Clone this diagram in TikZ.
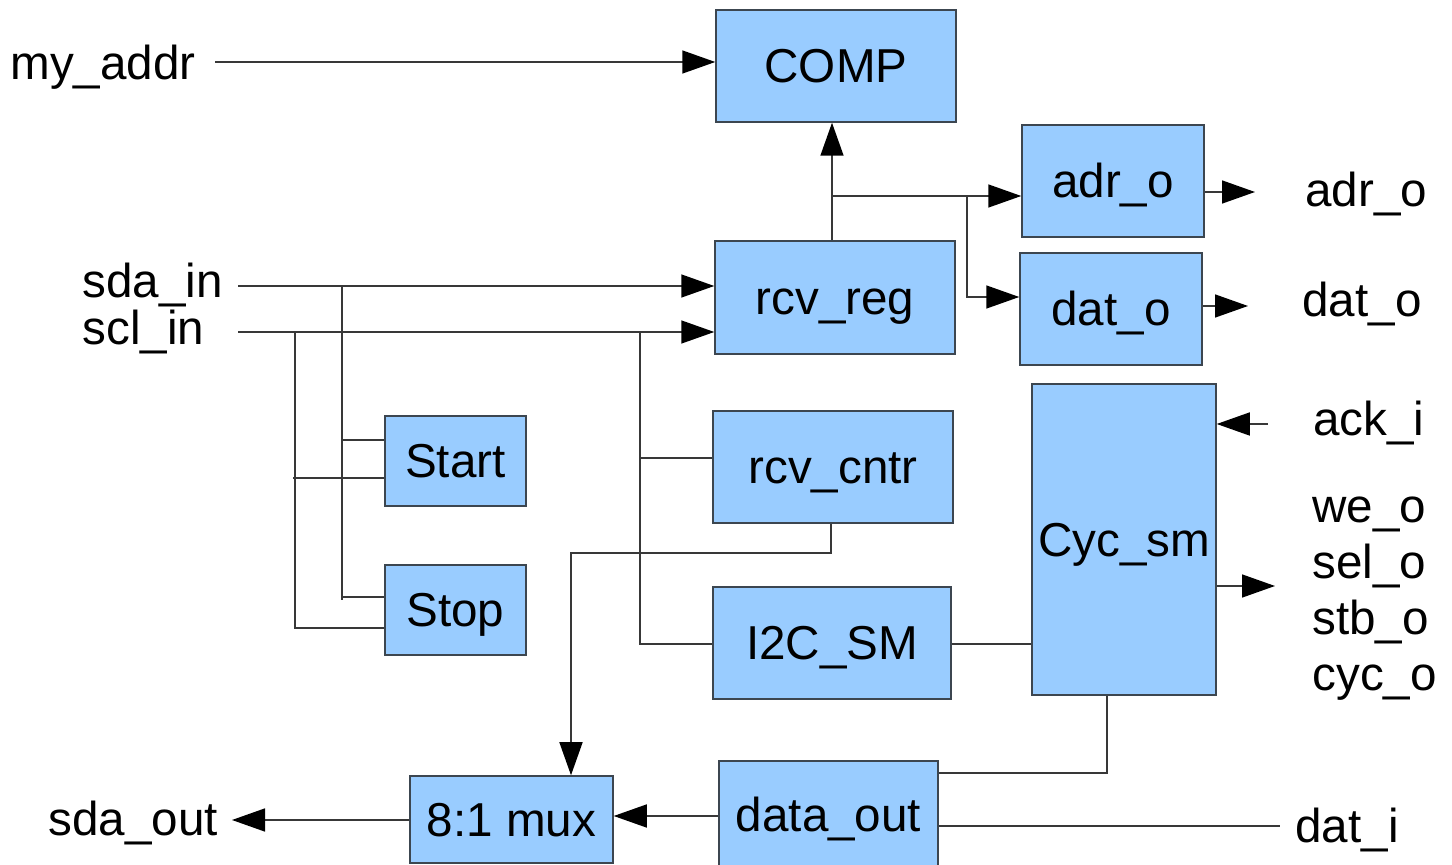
\documentclass[tikz,border=0pt]{standalone}
\usepackage{fontspec}
\setmainfont{Liberation Sans}
\usetikzlibrary{arrows.meta}
\definecolor{blkfill}{HTML}{99CCFF}
\definecolor{blkline}{HTML}{3C4650}
\definecolor{wirec}{HTML}{383838}
\tikzset{
  txt/.style={font=\fontsize{23.8}{28}\selectfont},
  blk/.style={txt, draw=blkline, fill=blkfill, line width=0.75pt, inner sep=0pt,
    text height=17pt, text depth=0pt},
  sz/.style 2 args={minimum width={(#1)*0.5pt}, minimum height={(#2)*0.5pt}},
  lbl/.style={txt, anchor=base west, inner sep=0pt},
  wire/.style={draw=wirec, line width=0.75pt},
  arr/.style={wire, -{Triangle[length=16.5pt, width=11.5pt, color=black]}}
}
\begin{document}
\begin{tikzpicture}[x=0.5pt,y=-0.5pt]
\useasboundingbox (0,0) rectangle (1452,865);
\clip (0,0) rectangle (1452,865);

% functional blocks
\node[blk, sz={240}{112}] (comp) at (836,66)    {COMP};
\node[blk, sz={182}{112}] (adr)  at (1113,181)  {adr\_o};
\node[blk, sz={182}{112}] (dat)  at (1111,309)  {dat\_o};
\node[blk, sz={240}{113}] (rcv)  at (835,297.5) {rcv\_reg};
\node[blk, sz={141}{90}]  (start) at (455.5,461) {Start};
\node[blk, sz={141}{90}]  (stop) at (455.5,610) {Stop};
\node[blk, sz={240}{112}] (cntr) at (833,467)   {rcv\_cntr};
\node[blk, sz={238}{112}] (i2c)  at (832,643)   {I2C\_SM};
\node[blk, sz={184}{311}] (cyc)  at (1124,539.5) {Cyc\_sm};
\node[blk, sz={203}{87}]  (mux)  at (511.5,819.5) {8:1 mux};
\node[blk, sz={219}{108}] (dout) at (828.5,815) {data\_out};

% port names
\node[lbl] (lmy)   at (10,80)    {my\_addr};
\node[lbl] (lsda)  at (82,298)   {sda\_in};
\node[lbl] (lscl)  at (82,345)   {scl\_in};
\node[lbl] (ladr)  at (1305,207) {adr\_o};
\node[lbl] (ldat)  at (1302,317) {dat\_o};
\node[lbl] (lack)  at (1313,436) {ack\_i};
\node[lbl] (lwe)   at (1312,523) {we\_o};
\node[lbl] (lsel)  at (1312,579) {sel\_o};
\node[lbl] (lstb)  at (1312,635) {stb\_o};
\node[lbl] (lcyc)  at (1312,691) {cyc\_o};
\node[lbl] (ldi)   at (1295,842) {dat\_i};
\node[lbl] (lsout) at (48,835)   {sda\_out};

% wire end points and junctions
\coordinate (myS)  at (215,62);
\coordinate (sdaS) at (238,286);
\coordinate (sclS) at (238,332);
\coordinate (tapA) at (342,286);
\coordinate (tapB) at (295,332);
\coordinate (tapC) at (640,332);
\coordinate (cmpT) at (832,196);
\coordinate (datT) at (967,196);
\coordinate (cntB) at (831,553);
\coordinate (muxB) at (571,553);
\coordinate (cycB) at (1107,773);
\coordinate (ackS) at (1268,424);
\coordinate (cycO) at (1275,586);
\coordinate (adrO) at (1255,192);
\coordinate (datO) at (1248,306);
\coordinate (diS)  at (1280,826);
\coordinate (soE)  at (232,820);

% inputs
\draw[arr] (myS) -- (myS -| comp.west);
\draw[arr] (sdaS) -- (sdaS -| rcv.west);
\draw[arr] (sclS) -- (sclS -| rcv.west);

% start / stop detection taps
\draw[wire] (tapA) -- (tapA |- 0,600);
\draw[wire] (tapA |- 0,440) -- (start.west |- 0,440);
\draw[wire] (tapA |- 0,597) -- (stop.west |- 0,597);
\draw[wire] (tapB) -- (tapB |- 0,628) -- (stop.west |- 0,628);
\draw[wire] (293,478) -- (start.west |- 0,478);

% scl to counter and state machine
\draw[wire] (tapC) -- (tapC |- 0,644) -- (i2c.west |- 0,644);
\draw[wire] (tapC |- 0,458) -- (cntr.west |- 0,458);

% counter selects the mux input
\draw[arr] (cntr.south -| cntB) -- (cntB) -- (muxB) -- (muxB |- mux.north);

% receive register outputs
\draw[arr] (rcv.north -| cmpT) -- (cmpT |- comp.south);
\draw[arr] (cmpT) -- (cmpT -| adr.west);
\draw[arr] (datT) -- (datT |- 0,297) -- (dat.west |- 0,297);
\draw[arr] (adr.east |- adrO) -- (adrO);
\draw[arr] (dat.east |- datO) -- (datO);

% state machines
\draw[wire] (i2c.east |- 0,644) -- (cyc.west |- 0,644);
\draw[arr] (ackS) -- (ackS -| cyc.east);
\draw[arr] (cyc.east |- cycO) -- (cycO);
\draw[wire] (cyc.south -| cycB) -- (cycB) -- (cycB -| dout.east);

% output path
\draw[wire] (dout.east |- diS) -- (diS);
\draw[arr] (dout.west |- 0,816) -- (mux.east |- 0,816);
\draw[arr] (mux.west |- soE) -- (soE);
\end{tikzpicture}
\end{document}
